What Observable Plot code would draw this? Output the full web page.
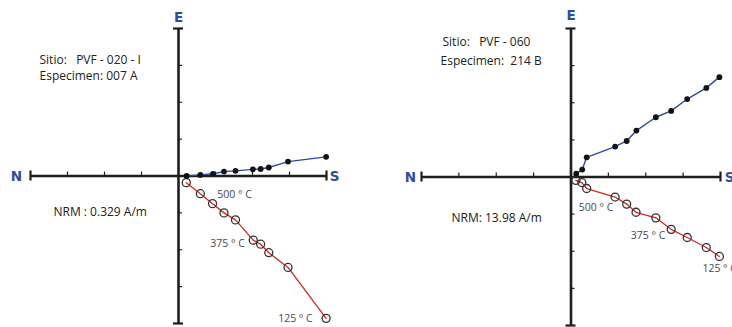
<!DOCTYPE html>
<html>
<head>
<meta charset="utf-8">
<script src="https://cdn.jsdelivr.net/npm/d3@7"></script>
<script src="https://cdn.jsdelivr.net/npm/@observablehq/plot@0.6"></script>
<style>
  html, body { margin: 0; padding: 0; background: #fff; }
  #wrap { position: relative; width: 732px; height: 327px; overflow: hidden; }
  #wrap svg { position: absolute; top: 0; overflow: visible; }
</style>
</head>
<body>
<div id="wrap"></div>
<script>
// ---------- data ----------
const axisTicks = [-4, -3, -2, -1, 1, 2, 3, 4];
const directionLabels = ["N", "S", "E"];
const tempLabels = ["500 ° C", "375 ° C", "125 ° C"];

// Specimen 1 : PVF-020-I / 007 A
const site1 = "Sitio:\u00a0\u00a0\u00a0PVF - 020 - I";
const spec1 = "Especimen:\u00a0007 A";
const nrm1 = "NRM : 0.329 A/m";
const blueX1 = [0.22, 0.59, 0.93, 1.23, 1.54, 2.01, 2.22, 2.44, 2.96, 3.99];
const blueY1 = [0.00, 0.03, 0.06, 0.12, 0.14, 0.18, 0.19, 0.23, 0.39, 0.52];
const redX1  = [0.21, 0.59, 0.92, 1.23, 1.54, 2.02, 2.22, 2.44, 2.96, 3.99];
const redY1  = [-0.18, -0.48, -0.75, -1.00, -1.19, -1.74, -1.85, -2.08, -2.48, -3.86];
const labelIdx1 = [1, 5, 9];

// Specimen 2 : PVF-060 / 214 B
const site2 = "Sitio:\u00a0\u00a0\u00a0PVF - 060";
const spec2 = "Especimen:\u00a0\u00a0214 B";
const nrm2 = "NRM: 13.98 A/m";
const blueX2 = [0.14, 0.30, 0.42, 1.18, 1.49, 1.75, 2.27, 2.68, 3.11, 3.62, 3.97];
const blueY2 = [0.09, 0.20, 0.53, 0.82, 0.97, 1.25, 1.61, 1.78, 2.10, 2.40, 2.69];
const redX2  = [0.13, 0.29, 0.42, 1.18, 1.49, 1.74, 2.27, 2.68, 3.11, 3.62, 3.97];
const redY2  = [-0.09, -0.15, -0.31, -0.54, -0.73, -0.95, -1.10, -1.41, -1.63, -1.90, -2.14];
const labelIdx2 = [2, 6, 10];

// ---------- drawing ----------
const FONT = "'Open Sans', 'Noto Sans', sans-serif";
const AXIS = "#1e1e1e";
const BLUE = "#2b4aa6";
const RED = "#d02a22";
const DIR = "#2a4ea2";

function zij(cfg) {
  const unit = (cfg.width - cfg.marginLeft - cfg.marginRight) / 8;
  const t = 4 / unit, cap = 5 / unit;
  const blue = cfg.bx.map((x, i) => ({x, y: cfg.by[i]}));
  const red = cfg.rx.map((x, i) => ({x, y: cfg.ry[i]}));
  const labels = cfg.labelIdx.map((k, i) => ({x: red[k].x, y: red[k].y, text: tempLabels[i], o: cfg.labelOff[i]}));
  const dirs = [
    {x: -4, y: 0, text: directionLabels[0], dx: cfg.dirOff[0][0], dy: cfg.dirOff[0][1]},
    {x: 4, y: 0, text: directionLabels[1], dx: cfg.dirOff[1][0], dy: cfg.dirOff[1][1]},
    {x: 0, y: 4, text: directionLabels[2], dx: cfg.dirOff[2][0], dy: cfg.dirOff[2][1]}
  ];
  const marks = [
    Plot.ruleY([0], {stroke: AXIS, strokeWidth: 2.6}),
    Plot.ruleX([0], {stroke: AXIS, strokeWidth: 2.6}),
    Plot.ruleX(axisTicks.filter(d => Math.abs(d) < 4), {x: d => d, y1: 0, y2: t, stroke: AXIS, strokeWidth: 1.2}),
    Plot.ruleY(axisTicks.filter(d => Math.abs(d) < 4), {y: d => d, x1: 0, x2: t, stroke: AXIS, strokeWidth: 1.2}),
    Plot.ruleX([-4, 4], {x: d => d, y1: -cap, y2: cap, stroke: AXIS, strokeWidth: 2.2}),
    Plot.ruleY([-4, 4], {y: d => d, x1: -cap, x2: cap, stroke: AXIS, strokeWidth: 2.2}),
    Plot.line(red, {x: "x", y: "y", stroke: RED, strokeWidth: 1.3}),
    Plot.dot(red, {x: "x", y: "y", r: 4, stroke: "#333", strokeWidth: 1.3, fill: "none"}),
    Plot.line(blue, {x: "x", y: "y", stroke: BLUE, strokeWidth: 1.4}),
    Plot.dot(blue, {x: "x", y: "y", r: 2.9, fill: "#111", stroke: "none"}),
    ...labels.map(d => Plot.text([d], {x: "x", y: "y", text: "text", dx: d.o[0], dy: d.o[1], textAnchor: "start",
      fontSize: 10.5, fill: "#4a4a4a", fontFamily: FONT})),
    ...dirs.map(d => Plot.text([d], {x: "x", y: "y", text: "text", dx: d.dx, dy: d.dy, fontSize: 13.5,
      fontWeight: "bold", fill: DIR, fontFamily: "'DejaVu Sans', sans-serif"})),
    Plot.text([cfg.site], {frameAnchor: "top-left", lineAnchor: "middle", dx: cfg.siteOff[0], dy: cfg.siteOff[1], textAnchor: "start",
      fontSize: 12, fill: "#222", fontFamily: FONT}),
    Plot.text([cfg.spec], {frameAnchor: "top-left", lineAnchor: "middle", dx: cfg.specOff[0], dy: cfg.specOff[1], textAnchor: "start",
      fontSize: 12, fill: "#222", fontFamily: FONT}),
    Plot.text([cfg.nrm], {frameAnchor: "top-left", lineAnchor: "middle", dx: cfg.nrmOff[0], dy: cfg.nrmOff[1], textAnchor: "start",
      fontSize: 12, fill: "#222", fontFamily: FONT})
  ];
  const svg = Plot.plot({
    width: cfg.width, height: 327,
    marginLeft: cfg.marginLeft, marginRight: cfg.marginRight,
    marginTop: cfg.marginTop, marginBottom: cfg.marginBottom,
    x: {domain: [-4, 4], axis: null},
    y: {domain: [-4, 4], axis: null},
    style: {background: "transparent", fontFamily: FONT},
    marks
  });
  svg.style.left = cfg.left + "px";
  return svg;
}

const wrap = document.getElementById("wrap");
wrap.appendChild(zij({
  left: 0, width: 366, marginLeft: 30, marginRight: 40, marginTop: 28, marginBottom: 4,
  bx: blueX1, by: blueY1, rx: redX1, ry: redY1, labelIdx: labelIdx1,
  labelOff: [[17, 1], [-43, 3], [-48, 0]],
  dirOff: [[-14, 1], [8, 1], [0, -11]],
  site: site1, spec: spec1, nrm: nrm1,
  siteOff: [9, 32], specOff: [9, 48], nrmOff: [23, 184]
}));
wrap.appendChild(zij({
  left: 366, width: 366, marginLeft: 55, marginRight: 12, marginTop: 28, marginBottom: 2,
  bx: blueX2, by: blueY2, rx: redX2, ry: redY2, labelIdx: labelIdx2,
  labelOff: [[-8, 19], [-25, 18], [-17, 12]],
  dirOff: [[-11, 1], [9, 1], [0, -13]],
  site: site2, spec: spec2, nrm: nrm2,
  siteOff: [21, 14], specOff: [19, 33], nrmOff: [30, 190]
}));
</script>
</body>
</html>
